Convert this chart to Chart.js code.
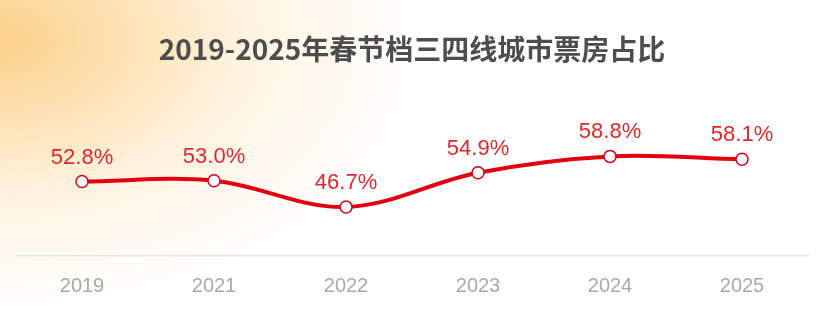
<!DOCTYPE html>
<html>
<head>
<meta charset="utf-8">
<script src="https://cdn.jsdelivr.net/npm/chart.js@4.4.1/dist/chart.umd.min.js"></script>
<style>
  html, body { margin: 0; padding: 0; }
  body {
    width: 834px; height: 334px; overflow: hidden;
    background: radial-gradient(ellipse 420px 270px at 0px 40px, #fbd08a 0%, #fde2b4 30%, #fff4e3 60%, #ffffff 100%);
  }
  #wrap { position: relative; width: 834px; height: 334px; }
</style>
</head>
<body>
<div id="wrap"><canvas id="share"></canvas></div>
<script>
// 春节档三四线城市票房占比
const years = ['2019', '2021', '2022', '2023', '2024', '2025'];
const shareValues = [52.8, 53.0, 46.7, 54.9, 58.8, 58.1];
const titleText = '2019-2025年春节档三四线城市票房占比';

const lineRed = '#e3000f';
const labelRed = '#e3262c';
const tickGrey = '#a8a8a8';

// draws "xx.x%" above each point
const valueLabels = {
    id: 'valueLabels',
    afterDatasetsDraw(chart) {
        const ctx = chart.ctx;
        const meta = chart.getDatasetMeta(0);
        ctx.save();
        ctx.font = '22px "Liberation Sans", Arial, sans-serif';
        ctx.fillStyle = labelRed;
        ctx.textAlign = 'center';
        ctx.textBaseline = 'middle';
        meta.data.forEach((pt, i) => {
            ctx.fillText(shareValues[i].toFixed(1) + '%', pt.x, pt.y - 24);
        });
        ctx.restore();
    }
};

new Chart(document.getElementById('share'), {
    type: 'line',
    data: {
        labels: years,
        datasets: [{
            data: shareValues,
            borderColor: lineRed,
            borderWidth: 4,
            tension: 0.35,
            pointRadius: 6,
            pointBackgroundColor: '#ffffff',
            pointBorderColor: '#d9001a',
            pointBorderWidth: 1.5
        }]
    },
    options: {
        responsive: true,
        maintainAspectRatio: false,
        animation: false,
        layout: {
            padding: {left: 16, right: 26, top: 0, bottom: 26}
        },
        plugins: {
            legend: {display: false},
            tooltip: {enabled: false},
            title: {
                display: true,
                text: titleText,
                color: '#4d4d4d',
                font: {size: 28, weight: 'bold', family: '"Noto Sans CJK SC", sans-serif', lineHeight: 1.2},
                padding: {top: 33, bottom: 22}
            }
        },
        scales: {
            x: {
                offset: true,
                grid: {display: false},
                border: {display: true, color: '#e6e6e6', width: 1.5},
                ticks: {
                    color: tickGrey,
                    padding: 10,
                    font: {size: 20, family: '"Liberation Sans", Arial, sans-serif'}
                }
            },
            y: {
                display: false,
                min: 35,
                max: 75
            }
        }
    },
    plugins: [valueLabels]
});
</script>
</body>
</html>
